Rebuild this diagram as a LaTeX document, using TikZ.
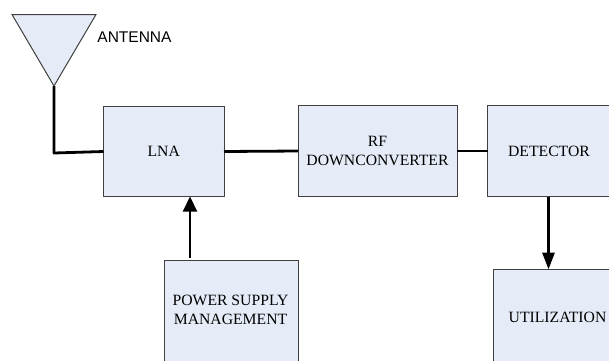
\documentclass[tikz,border=0pt]{standalone}
\usepackage{fontspec}
\setmainfont{Liberation Serif}
\newfontfamily\labelsans{Liberation Sans}
\usetikzlibrary{arrows.meta}
\definecolor{boxfill}{HTML}{E6ECF7}
\definecolor{boxline}{HTML}{404040}
\tikzset{
  blocktext/.style={inner sep=0pt,outer sep=0pt,align=center,font=\fontsize{15.7}{19}\selectfont},
  blockbox/.style={blocktext,draw=boxline,fill=boxfill,line width=1pt},
  wire/.style={line width=2.8pt,draw=black},
  flowup/.style={line width=2.2pt,draw=black,-{Triangle[length=15pt,width=14pt]}},
  flowdown/.style={line width=3pt,draw=black,-{Triangle[length=17pt,width=12pt]}},
}
\begin{document}
\begin{tikzpicture}[x=1pt,y=-1pt]
\useasboundingbox (0,0) rectangle (609,360);
\clip (0,0) rectangle (609,360);
\draw[draw=boxline,fill=boxfill,line width=1pt,line join=miter] (12,14.5) -- (96,14.5) -- (54,86) -- cycle;
\coordinate (apex) at (54,86);
\coordinate (corner) at (54,153);
\node[font=\labelsans\fontsize{15.5}{19}\selectfont,anchor=center] (antenna) at (134.5,37) {ANTENNA};
\node[blockbox,minimum width=120.5pt,minimum height=90pt] (lna) at (163.75,151.5) {LNA};
\node[blockbox,minimum width=159pt,minimum height=91pt] (rf) at (377.5,151) {RF\\DOWNCONVERTER};
\node[blockbox,minimum width=140pt,minimum height=91pt] (det) at (557.5,151) {};
\node[blocktext] (dettext) at (549,151.2) {DETECTOR};
\node[blockbox,minimum width=140pt,minimum height=110pt] (util) at (563.5,324.5) {};
\node[blocktext] (utiltext) at (557.5,317.2) {UTILIZATION};
\node[blockbox,minimum width=134pt,minimum height=110pt] (power) at (231,315.5) {};
\node[blocktext] (powertext) at (230.5,310) {POWER SUPPLY\\MANAGEMENT};
\draw[wire,line join=round] (apex) -- (corner) -- (lna.west);
\draw[wire] (lna.east) -- (rf.west);
\draw[wire] (rf.east) -- (rf.east -| det.west);
\coordinate (ptop) at (190,257.5);
\draw[flowup] (ptop) -- (ptop |- lna.south);
\coordinate (dout) at (548.5,196.5);
\draw[flowdown] (dout) -- (dout |- util.north);
\end{tikzpicture}
\end{document}
